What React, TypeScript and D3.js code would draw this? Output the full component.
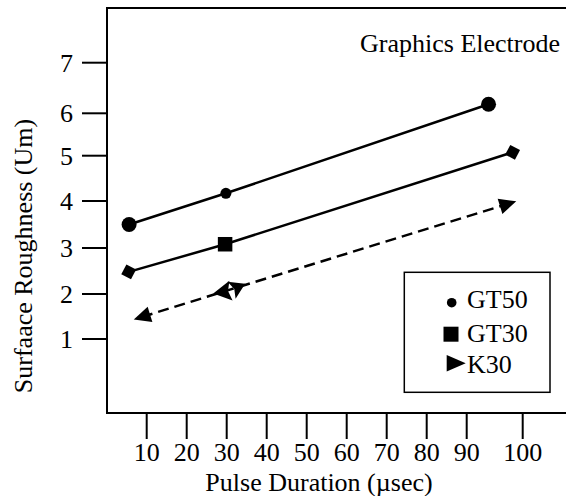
import React, { useEffect, useRef } from 'react';
import * as d3 from 'd3';

const pulseTicks = [10, 20, 30, 40, 50, 60, 70, 80, 90, 100];
const roughTicks = [1, 2, 3, 4, 5, 6, 7];

const gt50Pulse = [5.6, 29.8, 93.9];
const gt50Rough = [3.5, 4.17, 6.18];
const gt30Pulse = [5.5, 29.6, 98.2];
const gt30Rough = [2.48, 3.08, 5.08];
const k30Pulse = [8.8, 31, 97.4];
const k30Rough = [1.49, 2.1, 3.94];

const legendNames = ['GT50', 'GT30', 'K30'];

const FONT = '"Liberation Serif", "Times New Roman", Times, serif';

const App: React.FC = () => {
  const svgRef = useRef<SVGSVGElement>(null);

  useEffect(() => {
    document.body.style.margin = '0';
    if (!svgRef.current) return;
    const svg = d3.select(svgRef.current);
    svg.selectAll('*').remove();

    const width = 566;
    const left = 107, top = 8, bottom = 413;

    // the axes of the original are not evenly spaced, so the scales are piecewise
    const x = d3.scaleLinear().domain([10, 90, 100]).range([146.7, 466.7, 522.7]);
    const y = d3.scaleLinear().domain(roughTicks).range([339, 294, 248, 201, 155.7, 113.3, 62.7]);

    svg.append('rect')
      .attr('x', left).attr('y', top)
      .attr('width', width - left + 10).attr('height', bottom - top)
      .attr('fill', 'none').attr('stroke', '#000').attr('stroke-width', 2);

    // y ticks
    const yt = svg.append('g');
    roughTicks.forEach(t => {
      yt.append('line')
        .attr('x1', 82).attr('x2', left)
        .attr('y1', y(t)).attr('y2', y(t))
        .attr('stroke', '#000').attr('stroke-width', 2);
      yt.append('text')
        .attr('x', 73).attr('y', y(t) + 9)
        .attr('text-anchor', 'end')
        .style('font-family', FONT).style('font-size', '26px')
        .text(t);
    });

    // x ticks
    const xt = svg.append('g');
    pulseTicks.forEach(t => {
      xt.append('line')
        .attr('x1', x(t)).attr('x2', x(t))
        .attr('y1', bottom).attr('y2', 439)
        .attr('stroke', '#000').attr('stroke-width', 2);
      xt.append('text')
        .attr('x', x(t)).attr('y', 461)
        .attr('text-anchor', 'middle')
        .style('font-family', FONT).style('font-size', '26px')
        .text(t);
    });

    svg.append('text')
      .attr('x', 319).attr('y', 491)
      .attr('text-anchor', 'middle')
      .style('font-family', FONT).style('font-size', '26px')
      .text('Pulse Duration (µsec)');

    svg.append('text')
      .attr('transform', 'translate(32,256) rotate(-90)')
      .attr('text-anchor', 'middle')
      .style('font-family', FONT).style('font-size', '26px')
      .text('Surfaace Roughness (Um)');

    svg.append('text')
      .attr('x', 560).attr('y', 52)
      .attr('text-anchor', 'end')
      .style('font-family', FONT).style('font-size', '26px')
      .text('Graphics Electrode');

    const line = d3.line<[number, number]>()
      .x(d => x(d[0]))
      .y(d => y(d[1]));

    const drawLine = (px: number[], ry: number[], dashed: boolean) => {
      svg.append('path')
        .attr('d', line(px.map((p, i) => [p, ry[i]] as [number, number])))
        .attr('fill', 'none').attr('stroke', '#000').attr('stroke-width', 2.5)
        .attr('stroke-dasharray', dashed ? '11,6' : null);
    };
    drawLine(gt50Pulse, gt50Rough, false);
    drawLine(gt30Pulse, gt30Rough, false);
    drawLine(k30Pulse, k30Rough, true);

    const angleOf = (px: number[], ry: number[]) =>
      Math.atan2(y(ry[ry.length - 1]) - y(ry[0]), x(px[px.length - 1]) - x(px[0])) * 180 / Math.PI;

    // GT50 circles
    const circleR = [7.5, 5.5, 7.5];
    gt50Pulse.forEach((p, i) => {
      svg.append('circle')
        .attr('cx', x(p)).attr('cy', y(gt50Rough[i]))
        .attr('r', circleR[i]).attr('fill', '#000');
    });

    // GT30: diamond, square, diamond
    const a30 = angleOf(gt30Pulse, gt30Rough);
    gt30Pulse.forEach((p, i) => {
      const isSquare = i === 1;
      const s = isSquare ? 14.5 : 11;
      svg.append('rect')
        .attr('x', -s / 2).attr('y', -s / 2).attr('width', s).attr('height', s)
        .attr('fill', '#000')
        .attr('transform', `translate(${x(p)},${y(gt30Rough[i])}) rotate(${isSquare ? 0 : a30 + 45})`);
    });

    // K30 arrowheads along the dashed line
    const a3 = angleOf(k30Pulse, k30Rough);
    const arrow = (len: number, half: number, notch = 0) =>
      `M${len / 2},0L${-len / 2},${-half}L${-len / 2 + notch},0L${-len / 2},${half}Z`;
    const putArrow = (cx: number, cy: number, dir: number, shift: number, len: number, half = 8, notch = 0, tilt = 0) => {
      const rad = a3 * Math.PI / 180;
      const tx = cx + Math.cos(rad) * shift;
      const ty = cy + Math.sin(rad) * shift;
      svg.append('path')
        .attr('d', arrow(len, half, notch))
        .attr('fill', '#000')
        .attr('transform', `translate(${tx},${ty}) rotate(${a3 + tilt + (dir < 0 ? 180 : 0)})`);
    };
    k30Pulse.forEach((p, i) => {
      const cx = x(p), cy = y(k30Rough[i]);
      if (i === 0) putArrow(cx, cy, -1, 0, 17);
      else if (i === k30Pulse.length - 1) putArrow(cx, cy, 1, 0, 17);
      else {
        putArrow(cx, cy, -1, -9, 18, 10, 3, 8);
        putArrow(cx, cy, 1, 8, 15, 9.5, 3, -8);
      }
    });

    // legend
    const lg = svg.append('g');
    lg.append('rect')
      .attr('x', 404.3).attr('y', 272.3).attr('width', 145.7).attr('height', 120)
      .attr('fill', '#fff').attr('stroke', '#000').attr('stroke-width', 1.5);
    const rowY = [308.3, 341.7, 373.3];
    legendNames.forEach((n, i) => {
      lg.append('text')
        .attr('x', 467).attr('y', rowY[i])
        .style('font-family', FONT).style('font-size', '26px')
        .text(n);
    });
    lg.append('circle').attr('cx', 451.7).attr('cy', rowY[0] - 5.6).attr('r', 4.8).attr('fill', '#000');
    lg.append('rect').attr('x', 443.5).attr('y', rowY[1] - 15).attr('width', 15).attr('height', 15).attr('fill', '#000');
    lg.append('path')
      .attr('d', arrow(19, 8.3))
      .attr('fill', '#000')
      .attr('transform', `translate(456.2,${rowY[2] - 10})`);
  }, []);

  return <svg ref={svgRef} width={566} height={496} style={{ display: 'block', background: '#fff' }} />;
};

export default App;
